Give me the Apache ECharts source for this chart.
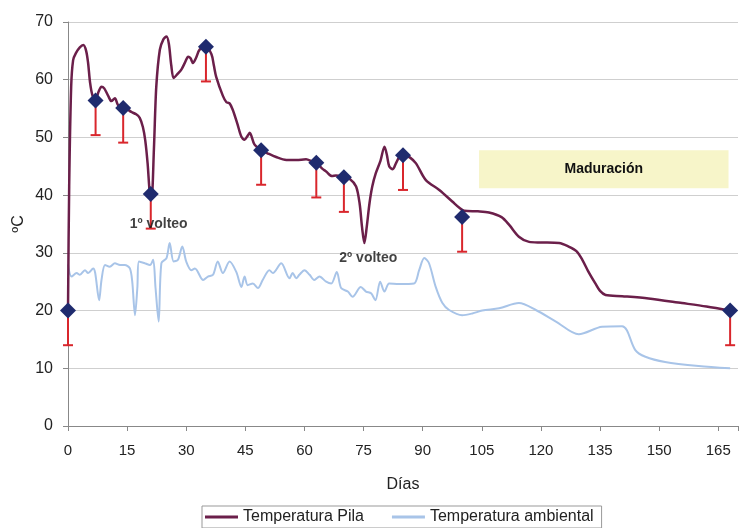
<!DOCTYPE html>
<html>
<head>
<meta charset="utf-8">
<script src="https://cdn.jsdelivr.net/npm/echarts@6/dist/echarts.min.js"></script>
<style>html,body{margin:0;padding:0;background:#fff}#c{width:741px;height:528px}</style>
</head>
<body>
<div id="c"></div>
<script>
const xTicks = [0, 15, 30, 45, 60, 75, 90, 105, 120, 135, 150, 165];
const yTicks = [0, 10, 20, 30, 40, 50, 60, 70];

const pileDays = [0,0.3,0.8,1.3,2,3,3.9,4.6,5.1,5.6,6.2,7,7.8,8.5,9.2,10.2,11,11.9,12.7,14,15,16.1,17.3,18.2,19,19.6,20.2,20.8,21.2,21.8,22.4,23.3,24.2,25,25.6,26.2,26.8,27.8,28.8,29.7,30.5,31.1,31.7,32.5,33.4,35,36.4,37,37.6,39.3,40.2,41,41.8,43,44,44.8,45.5,46.1,47.3,49,50.5,52.8,55.4,58,60.4,62,63,64.5,65.5,67,68,70,71.5,73.1,74,74.6,75.2,75.8,76.5,77.2,78.1,79.3,80.3,80.9,81.5,82.4,83.2,84,85.3,86.8,88.3,90.8,94.2,97.5,99.3,100.5,104,106.8,110,112,114.4,117,120,124.6,127,129,130.5,132,133.8,135,136.4,140.6,147.3,155.8,162,168];
const pileTemps = [20,41.5,58.7,63.4,64.6,65.6,66.0,65.0,62.9,59.5,57.3,56.6,58.0,58.8,58.5,57.2,56.3,56.8,55.6,55.2,54.9,54.4,54.0,53.4,51.8,49.5,45.5,40.0,39.5,48,58.8,65.2,67.0,67.5,66.2,62.5,60.3,61.0,61.8,63.0,64.0,63.7,62.9,63.8,65.2,65.7,64.4,62.5,60.5,57.2,56.1,55.9,54.8,52.3,50.1,49.6,50.2,50.8,48.8,47.8,47.3,46.6,46.1,46.1,46.2,45.8,45.6,44.6,44.1,43.3,43.4,43.1,42.8,41.5,38.5,34.5,31.7,34.5,38.6,41.5,43.8,46,48.4,47,45,44.5,45.5,46.5,47.0,46.5,45.5,42.6,40.9,38.9,37.8,37.3,37.2,37.0,36.2,34.8,32.8,31.9,31.8,31.7,31.1,30.3,28.8,26.8,24.7,23.4,22.7,22.5,22.1,21.3,20.7,20.0];

const ambDays = [0,0.9,2.2,3,4.3,5.1,6.4,6.9,7.9,8.5,9.4,10.6,11.9,13.2,14.4,15.7,16.3,17,17.6,18,19.5,20.8,21.6,22.2,23,23.7,25,25.8,26.8,27.9,29,30,31.3,32.2,34.3,35.5,36.8,38,39.3,41,42.7,44,44.8,45.6,46.9,48.2,49.4,51.1,52,54.1,56.2,57,57.9,58.7,60,61.3,62.5,63.8,65.5,66.8,68.2,69.3,71,72.2,74.3,75.6,76.9,78,79.2,80.3,81.5,84,87.8,89.1,90.4,91.6,93.3,95,96.7,100,102.6,105.1,109.4,114.4,118.7,123.8,129.6,135.5,140.6,141.8,143.9,146.5,151.5,160,168];
const ambTemps = [28.0,25.9,26.5,26.2,27.0,26.5,27.3,26.5,21.8,25.3,27.9,27.6,28.2,27.9,27.9,27.3,25,19.2,24,28.5,28.2,27.9,28.8,24,18.1,28.2,29.1,31.7,28.5,28.8,31.1,28.5,27.0,27.3,25.3,25.9,26.2,28.5,26.5,28.5,26.7,24.1,25.9,24.4,24.7,23.9,25.3,27.0,26.5,28.2,25.6,26.5,25.6,26.2,27.0,26.2,25.3,25.9,25.0,24.7,26.7,23.9,23.3,22.4,24.1,23.3,23.0,21.8,25.0,23.3,24.7,24.6,24.7,27.0,29.1,28.2,24.1,21.3,20.1,19.2,19.5,20.0,20.4,21.3,20.1,18.1,15.9,17.2,17.3,16.6,13.2,12.0,11.1,10.4,10.0];

const markDays = [0, 7, 14, 21, 35, 49, 63, 70, 85, 100, 168];
const markTemps = [20, 56.4, 55.1, 40.2, 65.7, 47.8, 45.6, 43.1, 46.9, 36.2, 20];
const markLows = [14, 50.4, 49.1, 34.2, 59.7, 41.8, 39.6, 37.1, 40.9, 30.2, 14];

const noteDays = [23, 76.2];
const noteTemps = [35, 29.1];
const noteTexts = ['1º volteo', '2º volteo'];

const boxLabel = 'Maduración';
const boxFrom = [104.3, 47.8];
const boxTo = [167.6, 41.2];

const FONT = "'Liberation Sans', Arial, sans-serif";
const zip = (a, b) => a.map((v, i) => [v, b[i]]);

const chart = echarts.init(document.getElementById('c'), null, {renderer: 'canvas'});
chart.setOption({
  animation: false,
  textStyle: {fontFamily: FONT},
  grid: {left: 68, right: 2, top: 22, bottom: 102},
  legend: {
    data: ['Temperatura Pila', 'Temperatura ambiental'],
    icon: 'rect',
    left: 202, top: 506,
    itemWidth: 33, itemHeight: 3, itemGap: 28,
    borderColor: '#999', borderWidth: 1, padding: [3, 8, 3, 3],
    textStyle: {fontSize: 16, color: '#222', fontFamily: FONT}
  },
  xAxis: {
    type: 'value', min: 0, max: 170, interval: 15,
    name: 'Días', nameLocation: 'middle', nameGap: 51,
    nameTextStyle: {fontSize: 16, color: '#222'},
    axisLine: {lineStyle: {color: '#888'}},
    axisTick: {show: true, length: 5, lineStyle: {color: '#888'}},
    axisLabel: {fontSize: 15, color: '#222', margin: 17,
      formatter: v => xTicks.includes(v) ? String(v) : ''},
    splitLine: {show: false}
  },
  yAxis: {
    type: 'value', min: 0, max: 70, interval: 10,
    name: 'ºC', nameLocation: 'middle', nameGap: 41, nameRotate: 90,
    nameMoveOverlap: false,
    nameTextStyle: {fontSize: 16, color: '#222'},
    axisLine: {show: true, lineStyle: {color: '#888'}},
    axisTick: {show: true, length: 5, lineStyle: {color: '#888'}},
    axisLabel: {fontSize: 16, color: '#222', margin: 15,
      formatter: v => yTicks.includes(v) ? String(v) : ''},
    splitLine: {lineStyle: {color: '#cfcfcf', width: 1}}
  },
  series: [
    {
      name: 'Temperatura ambiental', type: 'line', symbol: 'none',
      smooth: 0.3, data: zip(ambDays, ambTemps),
      lineStyle: {color: '#a8c4e8', width: 2}, itemStyle: {color: '#a8c4e8'},
      z: 2,
      markArea: {
        silent: true,
        itemStyle: {color: '#f7f5c9'},
        label: {show: true, position: 'inside', fontSize: 14, fontWeight: 'bold', color: '#111', fontFamily: FONT},
        data: [[{name: boxLabel, coord: boxFrom}, {coord: boxTo}]]
      }
    },
    {
      name: 'Temperatura Pila', type: 'line', symbol: 'none',
      smooth: 0.3, data: zip(pileDays, pileTemps),
      lineStyle: {color: '#6b1f4a', width: 2.5}, itemStyle: {color: '#6b1f4a'},
      z: 3
    },
    {
      name: 'err', type: 'custom', z: 4,
      data: markDays.map((d, i) => [d, markTemps[i], markLows[i]]),
      renderItem: (params, api) => {
        const p1 = api.coord([api.value(0), api.value(1)]);
        const p2 = api.coord([api.value(0), api.value(2)]);
        const st = {stroke: '#d9262c', lineWidth: 2};
        return {type: 'group', children: [
          {type: 'line', shape: {x1: p1[0], y1: p1[1], x2: p2[0], y2: p2[1]}, style: st},
          {type: 'line', shape: {x1: p2[0] - 5, y1: p2[1], x2: p2[0] + 5, y2: p2[1]}, style: st}
        ]};
      }
    },
    {
      name: 'marks', type: 'scatter', symbol: 'diamond', symbolSize: [16, 16],
      data: zip(markDays, markTemps),
      itemStyle: {color: '#1f2b6e', opacity: 1}, z: 5
    },
    {
      name: 'notes', type: 'scatter', symbolSize: 1, z: 6,
      data: noteDays.map((d, i) => [d, noteTemps[i], noteTexts[i]]),
      itemStyle: {color: 'rgba(0,0,0,0)'},
      label: {show: true, position: 'inside', formatter: p => p.value[2],
        fontSize: 14, fontWeight: 'bold', color: '#111', fontFamily: FONT}
    }
  ]
});
</script>
</body>
</html>
